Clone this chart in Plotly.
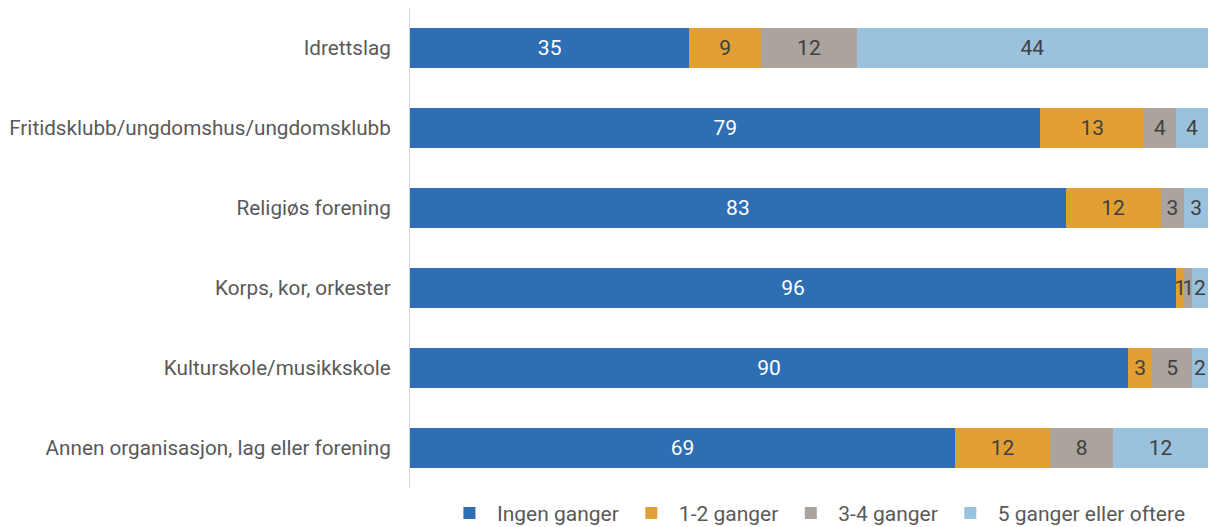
import plotly.graph_objects as go

categories = [
    "Idrettslag",
    "Fritidsklubb/ungdomshus/ungdomsklubb",
    "Religiøs forening",
    "Korps, kor, orkester",
    "Kulturskole/musikkskole",
    "Annen organisasjon, lag eller forening",
]
series_names = ["Ingen ganger", "1-2 ganger", "3-4 ganger", "5 ganger eller oftere"]
ingen = [35, 79, 83, 96, 90, 69]
en_to = [9, 13, 12, 1, 3, 12]
tre_fire = [12, 4, 3, 1, 5, 8]
fem_pluss = [44, 4, 3, 2, 2, 12]

colors = ["#2E6EB5", "#E19F34", "#ABA49E", "#9AC2DD"]
text_colors = ["white", "#404040", "#404040", "#404040"]

fig = go.Figure()
for name, vals, col, tcol in zip(series_names, [ingen, en_to, tre_fire, fem_pluss], colors, text_colors):
    fig.add_trace(go.Bar(
        y=categories, x=vals, name=name, orientation="h",
        marker=dict(color=col, line=dict(width=0)),
        text=vals, textposition="inside", insidetextanchor="middle",
        textfont=dict(color=tcol, size=21), constraintext="none",
    ))

fig.update_layout(
    barmode="stack", barnorm="percent", bargap=0.5,
    width=1220, height=527,
    margin=dict(l=410, r=12, t=8, b=39, autoexpand=False),
    paper_bgcolor="white", plot_bgcolor="white",
    font=dict(family="Roboto, Arial, sans-serif", size=21, color="#595959"),
    uniformtext=dict(minsize=21, mode="show"),
    xaxis=dict(range=[0, 100], visible=False, showgrid=False),
    yaxis=dict(autorange="reversed", showline=True, linecolor="#D9D9D9", linewidth=1,
               ticks="", ticklabelstandoff=14, showgrid=False, automargin=False,
               tickfont=dict(size=20.7)),
    legend=dict(orientation="h", x=0.04, xanchor="left", y=-0.01, yanchor="top",
                font=dict(size=21, color="#595959"), itemwidth=45, traceorder="normal"),
    showlegend=True,
)

# page body has a default 8px margin; drop it so the figure fills the window
fig.write_html("out.html", config={"displayModeBar": False},
               post_script="document.body.style.margin='0';")
